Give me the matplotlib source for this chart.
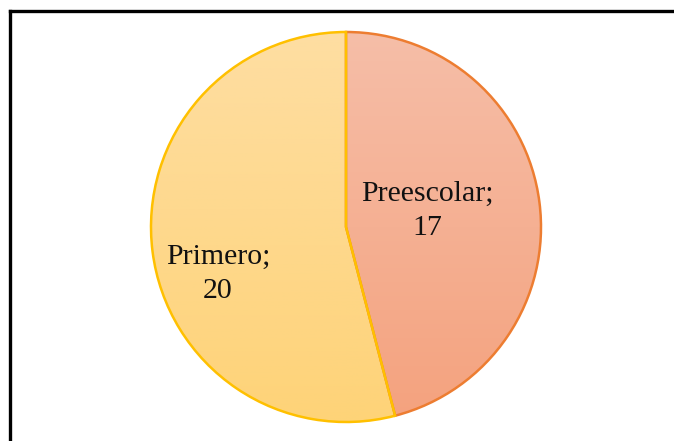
import numpy as np
import matplotlib.pyplot as plt
from matplotlib.colors import LinearSegmentedColormap
from matplotlib.lines import Line2D

# data
labels = ['Preescolar', 'Primero']
values = [17, 20]
top_colors = ['#F6BEA8', '#FEDEA2']
bottom_colors = ['#F4A27E', '#FED378']
edge_colors = ['#ED7D31', '#FFC000']

W, H = 674, 441
fig = plt.figure(figsize=(W / 100, H / 100), dpi=100)
fig.patch.set_facecolor('white')
ax = fig.add_axes([0, 0, 1, 1])

cx, cy, r = 346, H - 227, 195

wedges, _ = ax.pie(values, center=(cx, cy), radius=r, startangle=90,
                   counterclock=False, frame=True,
                   wedgeprops={'linewidth': 1.8})
ax.set_xlim(0, W)
ax.set_ylim(0, H)
ax.set_aspect('auto')
ax.axis('off')

# vertical gradient fill, clipped to each wedge (row 0 = top)
grad = np.linspace(0, 1, 256).reshape(-1, 1)
for w, c0, c1, ec in zip(wedges, top_colors, bottom_colors, edge_colors):
    cmap = LinearSegmentedColormap.from_list('g', [c0, c1])
    im = ax.imshow(grad, cmap=cmap, aspect='auto', origin='upper',
                   extent=(cx - r, cx + r, cy - r, cy + r), zorder=1)
    im.set_clip_path(w)
    w.set_facecolor('none')
    w.set_edgecolor(ec)
    w.set_zorder(2)

# labels
font = dict(family='Liberation Serif', fontsize=21.5, color='#111111',
            ha='center', va='center', zorder=3, linespacing=1.38)
ax.text(427, H - 211, f'{labels[0]};\n{values[0]}', **font)
ax.text(218, H - 274, f'{labels[1]};\n{values[1]}', **font)

# frame lines (top and left)
fig.add_artist(Line2D([10 / W, 1], [1 - 11 / H, 1 - 11 / H],
                      color='black', linewidth=2.4, transform=fig.transFigure))
fig.add_artist(Line2D([10 / W, 10 / W], [0, 1 - 11 / H],
                      color='black', linewidth=2.4, transform=fig.transFigure))

fig.savefig('out.png', dpi=100)
